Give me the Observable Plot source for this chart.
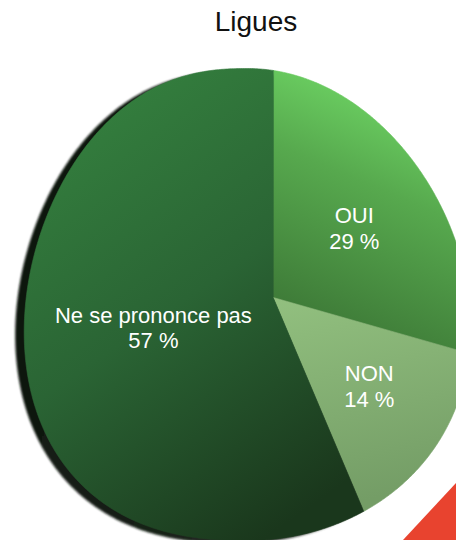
<!DOCTYPE html>
<html><head><meta charset="utf-8">
<script src="https://cdn.jsdelivr.net/npm/d3@7"></script>
<script src="https://cdn.jsdelivr.net/npm/@observablehq/plot@0.6"></script>
<style>
body{margin:0;background:#fff;width:456px;height:540px;overflow:hidden;position:relative;font-family:"Liberation Sans",Helvetica,Arial,sans-serif}
#title{height:44px;line-height:44px;font-size:28px;text-align:center;padding-left:56px;color:#111}
#corner{position:absolute;right:0;bottom:0;width:53px;height:57px;background:#e8432f;clip-path:polygon(100% 0,100% 100%,0 100%)}
#err{position:absolute;left:0;top:60px;font-size:10px;color:#c00;white-space:pre-wrap;width:450px}
</style></head><body>
<div id="title">Ligues</div>
<div id="chart"></div>
<div id="corner"></div>
<div id="err"></div>
<script>
// ---- data ----
const categories = ["OUI", "NON", "Ne se prononce pas"];
const shares = [29, 14, 57];

// ---- styles ----
const sliceFills = ["url(#g0)", "url(#g1)", "url(#g2)"];

try {
// tilted-disc look: rays from the pie centre, rim is an egg-like outline
const P = [272.7, 253];                 // pie centre in svg px
const C = {cx: 247, cy: 260, rx: 222, ry: 236};
const SIDE = {left: {p: 2.4, e: 0.1}, right: {p: 2, e: 0.1}};
const ASPECT = 0.9, R0 = 238, NEAR = 0.15;
function inside(x, y) {
  const yn = (y - C.cy) / C.ry;
  if (Math.abs(yn) >= 1) return false;
  const sd = x < C.cx ? SIDE.left : SIDE.right;
  const s = Math.abs(x - C.cx) / (C.rx * (1 + sd.e * yn));
  return Math.pow(s, sd.p) + yn * yn < 1;
}
function rimDist(dx, dy) {
  let lo = 0, hi = 700;
  for (let i = 0; i < 40; i++) {
    const m = (lo + hi) / 2;
    if (inside(P[0] + m * dx, P[1] + m * dy)) lo = m; else hi = m;
  }
  return lo;
}
function warp(u, v) {
  const r = Math.hypot(u, v);
  if (r < 1e-9) return [P[0], P[1]];
  const th = Math.atan2(u, v);
  let dx = ASPECT * Math.sin(th), dy = -Math.cos(th);
  const n = Math.hypot(dx, dy); dx /= n; dy /= n;
  const t = rimDist(dx, dy);
  const base = R0 * (1 + NEAR * dy);
  const g = base * r + (t - base) * Math.pow(r, 6);
  return [P[0] + g * dx, P[1] + g * dy];
}
const projection = d3.geoTransform({
  point(u, v) { const [x, y] = warp(u, v); this.stream.point(x, y); }
});

const arcs = d3.pie().sort(null).value(d => d)(shares);
function rim(a0, a1) {
  const pts = [];
  const n = Math.max(2, Math.ceil((a1 - a0) / (Math.PI / 360)));
  for (let i = 0; i <= n; i++) {
    const a = a0 + (a1 - a0) * i / n;
    pts.push([Math.sin(a), Math.cos(a)]);
  }
  return pts;
}
const poly = ring => ({type: "Feature", properties: {}, geometry: {type: "Polygon", coordinates: [ring]}});
const slices = arcs.map(a => poly([[0, 0], ...rim(a.startAngle, a.endAngle), [0, 0]]));
const disc = rim(0, 2 * Math.PI);
disc[disc.length - 1] = disc[0];
const labelData = arcs.map((a, i) => {
  const m = (a.startAngle + a.endAngle) / 2;
  return {u: 0.5 * Math.sin(m), v: 0.5 * Math.cos(m),
          text: `${categories[i]}\n${Math.round(shares[i])} %`};
});

const chart = Plot.plot({
  width: 456,
  height: 496,
  margin: 0,
  projection,
  style: {background: "transparent", fontFamily: "'Liberation Sans', Helvetica, Arial, sans-serif"},
  marks: [
    Plot.geo([poly(disc)], {fill: "url(#gs)", stroke: "none", dx: -9, dy: 3}),
    ...slices.map((s, i) => Plot.geo([s], {fill: sliceFills[i], stroke: sliceFills[i], strokeWidth: 0.6})),
    Plot.text(labelData, {x: "u", y: "v", text: "text", fill: "white", fontSize: 22, lineHeight: 1.16})
  ]
});
const defs = d3.select(chart).insert("defs", ":first-child");
function grad(id, x1, y1, x2, y2, stops) {
  const g = defs.append("linearGradient").attr("id", id)
    .attr("x1", x1).attr("y1", y1).attr("x2", x2).attr("y2", y2);
  stops.forEach(([o, c]) => g.append("stop").attr("offset", o).attr("stop-color", c));
}
grad("g0", 0.6, 0, 0.3, 1, [[0, "#72dc68"], [0.4, "#57a94e"], [1, "#3a7334"]]);
grad("g1", 0, 0, 0.2, 1, [[0, "#92c07f"], [1, "#749d66"]]);
grad("g2", 0.2, 0, 0.7, 1, [[0, "#35823f"], [0.5, "#2a6434"], [1, "#1a371c"]]);
grad("gs", 0, 0, 1, 0.3, [[0, "#0b130b"], [0.6, "#1a221a"], [1, "#555a55"]]);
defs.append("filter").attr("id", "soft").append("feGaussianBlur").attr("stdDeviation", 0.8);
d3.select(chart).select("g[aria-label=geo]").attr("filter", "url(#soft)");
document.getElementById("chart").appendChild(chart);
} catch (e) {
  document.getElementById("err").textContent = String(e && e.stack || e);
}
</script>
</body></html>
